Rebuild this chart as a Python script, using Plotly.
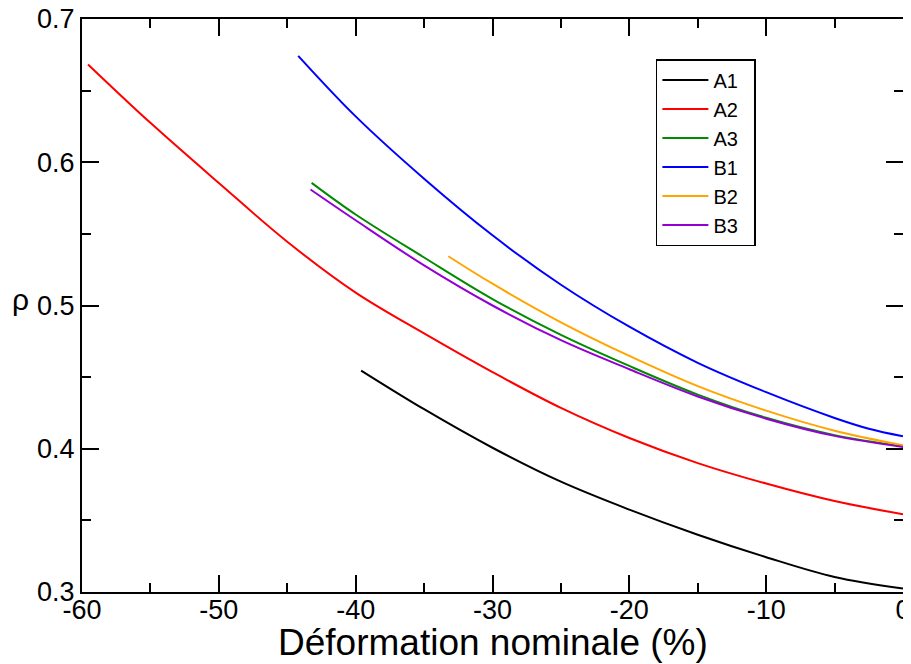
import plotly.graph_objects as go

# ---- data ----
a1_x = [-39.6, -35, -30, -25, -20, -15, -10, -5, 0]
a1_y = [0.4546, 0.4276, 0.4007, 0.3770, 0.3575, 0.3400, 0.3243, 0.3105, 0.3024]

a2_x = [-59.56, -55, -50, -45, -40, -35, -30, -25, -20, -15, -10, -5, 0]
a2_y = [0.6683, 0.6275, 0.5855, 0.5445, 0.509, 0.4805, 0.4535, 0.4285, 0.4075, 0.390, 0.3757, 0.3635, 0.3543]

a3_x = [-43.22, -40, -35, -30, -25, -20, -15, -10, -5, 0]
a3_y = [0.5856, 0.5635, 0.5335, 0.5045, 0.4795, 0.4578, 0.4378, 0.4216, 0.4095, 0.4017]

b1_x = [-44.2, -40, -35, -30, -25, -20, -15, -10, -5, -2.5, 0]
b1_y = [0.6743, 0.632, 0.5885, 0.549, 0.5145, 0.4852, 0.4600, 0.4395, 0.4215, 0.4140, 0.4087]

b2_x = [-33.23, -30, -25, -20, -15, -10, -5, 0]
b2_y = [0.5344, 0.5152, 0.4883, 0.4648, 0.4437, 0.4266, 0.4126, 0.4024]

b3_x = [-43.3, -40, -35, -30, -25, -20, -15, -10, -5, 0]
b3_y = [0.581, 0.5595, 0.5280, 0.5000, 0.4758, 0.4555, 0.4365, 0.4210, 0.4090, 0.4013]

x_ticks = [-60, -50, -40, -30, -20, -10, 0]
x_ticklabels = ["-60", "-50", "-40", "-30", "-20", "-10", "0"]
y_ticks = [0.3, 0.4, 0.5, 0.6, 0.7]
y_ticklabels = ["0.3", "0.4", "0.5", "0.6", "0.7"]

names = ["A1", "A2", "A3", "B1", "B2", "B3"]
colors = ["#000000", "#ff0000", "#008b00", "#0000ff", "#ffa500", "#9400d3"]
series = [(a1_x, a1_y), (a2_x, a2_y), (a3_x, a3_y), (b1_x, b1_y), (b2_x, b2_y), (b3_x, b3_y)]

FONT = "Liberation Sans, Arial, sans-serif"
PAD = "\u00a0\u00a0"

fig = go.Figure()
for (xs, ys), n, c in zip(series, names, colors):
    fig.add_trace(go.Scatter(x=xs, y=ys, mode="lines", name=n + PAD,
                             line=dict(color=c, width=2, shape="spline", smoothing=1.0)))

axis_common = dict(
    showgrid=False, zeroline=False, showline=True, linecolor="black", linewidth=2,
    mirror="allticks", ticks="inside", tickwidth=2, ticklen=17, tickcolor="black",
    tickfont=dict(family=FONT, size=27, color="black"), automargin=False,
    ticklabeloverflow="allow",
)

fig.update_xaxes(range=[-60, 0], tickmode="array", tickvals=x_ticks, ticktext=x_ticklabels,
                 minor=dict(ticks="inside", ticklen=9, tickwidth=2, dtick=5, tick0=0, tickcolor="black"),
                 ticklabelstandoff=-7,
                 **axis_common)
fig.update_yaxes(range=[0.3, 0.7], tickmode="array", tickvals=y_ticks, ticktext=y_ticklabels,
                 minor=dict(ticks="inside", ticklen=9, tickwidth=2, dtick=0.05, tick0=0.3, tickcolor="black"),
                 ticklabelstandoff=0,
                 **axis_common)

fig.add_annotation(text="Déformation nominale (%)", xref="paper", yref="paper",
                   x=0.5, y=-0.089, showarrow=False, xanchor="center", yanchor="middle",
                   font=dict(family=FONT, size=37, color="black"))
fig.add_annotation(text="ρ", xref="paper", yref="paper", x=-0.075, y=0.51,
                   showarrow=False, font=dict(family=FONT, size=30, color="black"),
                   xanchor="center", yanchor="middle")

fig.update_layout(
    width=903, height=656,
    margin=dict(l=74, r=8, t=11, b=72),
    paper_bgcolor="white", plot_bgcolor="white",
    showlegend=True,
    legend=dict(x=0.699, y=0.93, xanchor="left", yanchor="top",
                bordercolor="black", borderwidth=1.5, bgcolor="white",
                font=dict(family=FONT, size=20, color="black"),
                itemwidth=46, tracegroupgap=0),
)

fig.write_html("out.html")
